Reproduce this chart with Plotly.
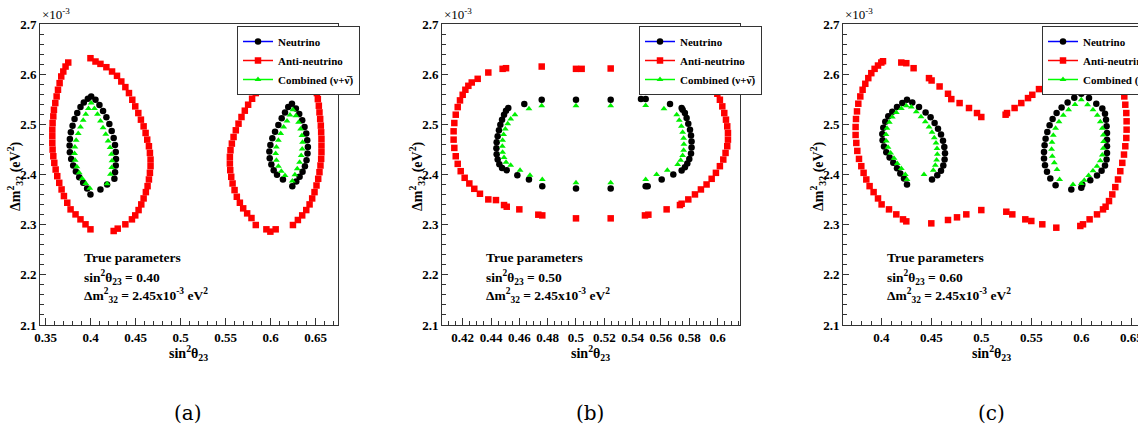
import plotly.graph_objects as go

W, H = 1138, 432

# ---------------- Panel (a): true sin^2(theta23) = 0.40 ----------------
a_nu_x = [0.4006, 0.3969, 0.3924, 0.3887, 0.3851, 0.3821, 0.3799, 0.3780, 0.3769, 0.3766, 0.3769, 0.3784,
          0.3806, 0.3836, 0.3873, 0.3917, 0.3961, 0.3998, 0.4054, 0.4098, 0.4138, 0.4175, 0.4208, 0.4234,
          0.4256, 0.4271, 0.4279, 0.4282, 0.4279, 0.4271, 0.4264, 0.4183, 0.4109,
          0.6238, 0.6282, 0.6319, 0.6352, 0.6378, 0.6397, 0.6408, 0.6415, 0.6411, 0.6400, 0.6382, 0.6356,
          0.6323, 0.6286, 0.6242, 0.6197, 0.6161, 0.6124, 0.6087, 0.6050, 0.6020, 0.5998, 0.5987, 0.5991,
          0.6009, 0.6035, 0.6072, 0.6138]
a_nu_y = [2.5556, 2.5510, 2.5437, 2.5344, 2.5225, 2.5106, 2.4974, 2.4841, 2.4709, 2.4576, 2.4444, 2.4311,
          2.4179, 2.4060, 2.3947, 2.3834, 2.3722, 2.3603, 2.5490, 2.5384, 2.5265, 2.5139, 2.5007, 2.4868,
          2.4728, 2.4589, 2.4450, 2.4311, 2.4179, 2.4046, 2.3914, 2.3801, 2.3702,
          2.5411, 2.5318, 2.5205, 2.5079, 2.4947, 2.4815, 2.4682, 2.4550, 2.4417, 2.4285, 2.4166, 2.4053,
          2.3954, 2.3861, 2.3768, 2.5344, 2.5238, 2.5119, 2.4987, 2.4854, 2.4722, 2.4589, 2.4457, 2.4325,
          2.4199, 2.4086, 2.3993, 2.3901]

a_anu_x = [0.3751, 0.3721, 0.3696, 0.3673, 0.3655, 0.3637, 0.3622, 0.3607, 0.3592, 0.3585, 0.3577, 0.3574,
           0.3574, 0.3574, 0.3577, 0.3585, 0.3596, 0.3611, 0.3629, 0.3651, 0.3677, 0.3703, 0.3740, 0.3777,
           0.3832, 0.3887, 0.3943, 0.3998,
           0.4256, 0.4301, 0.4386, 0.4459, 0.4496, 0.4533, 0.4563, 0.4589, 0.4614, 0.4633, 0.4648, 0.4659,
           0.4666, 0.4666, 0.4659, 0.4648, 0.4629, 0.4611, 0.4589, 0.4559, 0.4530, 0.4496, 0.4463, 0.4426,
           0.4386, 0.4341, 0.4293, 0.4238, 0.4175, 0.4109, 0.4054, 0.3998,
           0.5880, 0.5836, 0.5795, 0.5751, 0.5714, 0.5677, 0.5644, 0.5614, 0.5589, 0.5570, 0.5555, 0.5548,
           0.5548, 0.5552, 0.5563, 0.5578, 0.5600, 0.5625, 0.5659, 0.5696, 0.5740, 0.5788, 0.5836, 0.5954,
           0.5998, 0.6057,
           0.6249, 0.6304, 0.6352, 0.6397, 0.6434, 0.6463, 0.6489, 0.6511, 0.6530, 0.6544, 0.6555, 0.6563,
           0.6566, 0.6566, 0.6566, 0.6563, 0.6559, 0.6552, 0.6544, 0.6537, 0.6526, 0.6515, 0.6500]
a_anu_y = [2.6232, 2.6152, 2.6053, 2.5954, 2.5821, 2.5689, 2.5556, 2.5424, 2.5291, 2.5159, 2.5026, 2.4894,
           2.4762, 2.4629, 2.4497, 2.4364, 2.4232, 2.4099, 2.3967, 2.3834, 2.3702, 2.3570, 2.3437, 2.3305,
           2.3205, 2.3106, 2.3007, 2.2907,
           2.2874, 2.2921, 2.3007, 2.3106, 2.3185, 2.3291, 2.3404, 2.3523, 2.3649, 2.3768, 2.3901, 2.4033,
           2.4166, 2.4298, 2.4430, 2.4563, 2.4695, 2.4828, 2.4960, 2.5093, 2.5225, 2.5358, 2.5490, 2.5623,
           2.5742, 2.5854, 2.5967, 2.6053, 2.6139, 2.6205, 2.6252, 2.6318,
           2.5722, 2.5623, 2.5510, 2.5391, 2.5272, 2.5146, 2.5013, 2.4881, 2.4748, 2.4616, 2.4483, 2.4351,
           2.4219, 2.4086, 2.3954, 2.3821, 2.3689, 2.3556, 2.3437, 2.3325, 2.3225, 2.3132, 2.2993, 2.2907,
           2.2861, 2.2907,
           2.2993, 2.3093, 2.3185, 2.3291, 2.3404, 2.3523, 2.3649, 2.3781, 2.3914, 2.4046, 2.4179, 2.4311,
           2.4444, 2.4576, 2.4709, 2.4841, 2.4974, 2.5106, 2.5238, 2.5371, 2.5503, 2.5623, 2.5742]

a_comb_x = [0.4006, 0.3976, 0.3946, 0.3917, 0.3887, 0.3862, 0.3839, 0.3825, 0.3821, 0.3828, 0.3847, 0.3873,
            0.3906, 0.3946, 0.3991, 0.4042, 0.4076, 0.4109, 0.4138, 0.4168, 0.4194, 0.4216, 0.4231, 0.4238,
            0.4234, 0.4220, 0.4183,
            0.6249, 0.6216, 0.6183, 0.6146, 0.6113, 0.6087, 0.6065, 0.6057, 0.6065, 0.6087, 0.6120, 0.6161,
            0.6282, 0.6312, 0.6334, 0.6349, 0.6356, 0.6352, 0.6341, 0.6323, 0.6297, 0.6271, 0.6242]
a_comb_y = [2.5424, 2.5318, 2.5199, 2.5079, 2.4947, 2.4815, 2.4682, 2.4550, 2.4417, 2.4285, 2.4152, 2.4033,
            2.3921, 2.3821, 2.3728, 2.5318, 2.5199, 2.5066, 2.4934, 2.4801, 2.4669, 2.4536, 2.4404, 2.4272,
            2.4139, 2.4007, 2.3815,
            2.5291, 2.5185, 2.5066, 2.4947, 2.4815, 2.4682, 2.4550, 2.4417, 2.4285, 2.4166, 2.4066, 2.3980,
            2.5172, 2.5040, 2.4907, 2.4775, 2.4642, 2.4510, 2.4377, 2.4245, 2.4113, 2.3993, 2.3868]

# ---------------- Panel (b): true sin^2(theta23) = 0.50 ----------------
b_nu_x = [0.4635, 0.4758, 0.5000, 0.5245, 0.5459, 0.5492, 0.5664, 0.5746,
          0.4522, 0.4506, 0.4492, 0.4478, 0.4466, 0.4456, 0.4447, 0.4440, 0.4438, 0.4440, 0.4447, 0.4459,
          0.4478, 0.4511,
          0.4586, 0.4668, 0.4762, 0.5000, 0.5245, 0.5492, 0.5506, 0.5605, 0.5687, 0.5746,
          0.5753, 0.5769, 0.5781, 0.5793, 0.5805, 0.5812, 0.5816, 0.5816, 0.5812, 0.5800, 0.5786, 0.5769]
b_nu_y = [2.5404, 2.5490, 2.5490, 2.5490, 2.5503, 2.5503, 2.5404, 2.5325,
          2.5325, 2.5272, 2.5192, 2.5093, 2.4993, 2.4881, 2.4762, 2.4642, 2.4523, 2.4404, 2.4298, 2.4205,
          2.4132, 2.4086,
          2.3987, 2.3901, 2.3768, 2.3722, 2.3722, 2.3768, 2.3768, 2.3901, 2.3999, 2.4079,
          2.5291, 2.5225, 2.5126, 2.5013, 2.4894, 2.4775, 2.4656, 2.4536, 2.4417, 2.4311, 2.4219, 2.4146]

b_anu_x = [0.4482, 0.4506, 0.4381, 0.4306, 0.4264, 0.4240, 0.4219, 0.4200, 0.4181, 0.4165, 0.4151, 0.4141,
           0.4136, 0.4136, 0.4141, 0.4151, 0.4165, 0.4186, 0.4214, 0.4247, 0.4282, 0.4322, 0.4381, 0.4435,
           0.4492, 0.4511, 0.4600, 0.4734, 0.4762, 0.5000, 0.5245, 0.5487, 0.5511, 0.5640, 0.5734, 0.5746,
           0.5793, 0.5840, 0.5882, 0.5922, 0.5958, 0.5988, 0.6016, 0.6040, 0.6056, 0.6068, 0.6073, 0.6073,
           0.6068, 0.6059, 0.6047, 0.6033, 0.6016, 0.5998, 0.5976,
           0.4758, 0.5000, 0.5040, 0.5245]
b_anu_y = [2.6106, 2.6119, 2.6033, 2.5907, 2.5834, 2.5768, 2.5689, 2.5589, 2.5477, 2.5344, 2.5192, 2.5026,
           2.4861, 2.4695, 2.4530, 2.4364, 2.4212, 2.4066, 2.3934, 2.3821, 2.3715, 2.3616, 2.3503, 2.3490,
           2.3391, 2.3358, 2.3305, 2.3199, 2.3185, 2.3126, 2.3126, 2.3185, 2.3199, 2.3305, 2.3391, 2.3417,
           2.3503, 2.3603, 2.3702, 2.3801, 2.3914, 2.4033, 2.4166, 2.4298, 2.4430, 2.4563, 2.4695, 2.4828,
           2.4960, 2.5093, 2.5225, 2.5358, 2.5490, 2.5609, 2.5722,
           2.6152, 2.6106, 2.6106, 2.6113]

b_comb_x = [0.4668, 0.4758, 0.5000, 0.5245, 0.5492, 0.5621,
            0.4569, 0.4539, 0.4518, 0.4501, 0.4489, 0.4482, 0.4480, 0.4482, 0.4492, 0.4506, 0.4539,
            0.4605, 0.4675, 0.4762, 0.5000, 0.5245, 0.5492, 0.5569, 0.5645,
            0.5711, 0.5729, 0.5744, 0.5753, 0.5760, 0.5762, 0.5760, 0.5753, 0.5739, 0.5718]
b_comb_y = [2.5311, 2.5371, 2.5371, 2.5371, 2.5377, 2.5311,
            2.5192, 2.5106, 2.5013, 2.4907, 2.4795, 2.4682, 2.4563, 2.4444, 2.4338, 2.4245, 2.4185,
            2.4086, 2.3987, 2.3901, 2.3834, 2.3834, 2.3901, 2.4000, 2.4086,
            2.5192, 2.5079, 2.4960, 2.4841, 2.4722, 2.4603, 2.4483, 2.4377, 2.4285, 2.4199]

# ---------------- Panel (c): true sin^2(theta23) = 0.60 ----------------
c_nu_x = [0.4257, 0.4310, 0.4377, 0.4443, 0.4493, 0.4533, 0.4567, 0.4597, 0.4617, 0.4630, 0.4637, 0.4633,
          0.4620, 0.4597, 0.4560, 0.4507,
          0.4210, 0.4157, 0.4110, 0.4070, 0.4040, 0.4020, 0.4010, 0.4013, 0.4027, 0.4050, 0.4083, 0.4120,
          0.4157, 0.4190, 0.4227, 0.4257,
          0.6000, 0.6077, 0.6150, 0.6210, 0.6237, 0.6247, 0.6253, 0.6257, 0.6257, 0.6257, 0.6257, 0.6253,
          0.6237, 0.6203, 0.6157, 0.6090, 0.6010, 0.6000, 0.5900, 0.5743,
          0.5930, 0.5863, 0.5803, 0.5753, 0.5713, 0.5683, 0.5660, 0.5643, 0.5633, 0.5627, 0.5627, 0.5637,
          0.5657, 0.5690]
c_nu_y = [2.5490, 2.5437, 2.5344, 2.5238, 2.5139, 2.5026, 2.4914, 2.4795, 2.4675, 2.4550, 2.4424, 2.4298,
          2.4179, 2.4073, 2.3987, 2.3901,
          2.5424, 2.5344, 2.5252, 2.5159, 2.5053, 2.4934, 2.4808, 2.4682, 2.4556, 2.4444, 2.4338, 2.4232,
          2.4126, 2.4020, 2.3921, 2.3801,
          2.5609, 2.5523, 2.5411, 2.5318, 2.5212, 2.5093, 2.4960, 2.4828, 2.4695, 2.4563, 2.4430, 2.4298,
          2.4179, 2.4073, 2.3980, 2.3887, 2.3795, 2.3735, 2.3702, 2.3788,
          2.5530, 2.5437, 2.5338, 2.5225, 2.5106, 2.4980, 2.4848, 2.4715, 2.4583, 2.4450, 2.4318, 2.4185,
          2.4053, 2.3921]

c_anu_x = [0.4000, 0.4017, 0.3967, 0.3933, 0.3900, 0.3870, 0.3840, 0.3813, 0.3790, 0.3770, 0.3757, 0.3747,
           0.3743, 0.3743, 0.3750, 0.3760, 0.3777, 0.3800, 0.3823, 0.3850, 0.3883, 0.3923, 0.3967, 0.4003,
           0.4077, 0.4150, 0.4217, 0.4250, 0.4500, 0.4667, 0.4757, 0.4850, 0.5000, 0.5250, 0.5310, 0.5440,
           0.5500, 0.5610, 0.5750, 0.5990, 0.6017, 0.6083, 0.6157, 0.6217, 0.6243, 0.6277, 0.6310, 0.6340,
           0.6367, 0.6390, 0.6410, 0.6427, 0.6440, 0.6450, 0.6453, 0.6453, 0.6450, 0.6440, 0.6430, 0.6417,
           0.4200, 0.4250, 0.4323, 0.4477, 0.4503, 0.4583, 0.4667, 0.4700, 0.4783, 0.4877, 0.4957, 0.5000,
           0.5243, 0.5257, 0.5333, 0.5400, 0.5467, 0.5510, 0.5577]
c_anu_y = [2.6232, 2.6258, 2.6172, 2.6106, 2.6020, 2.5921, 2.5808, 2.5689, 2.5556, 2.5411, 2.5258, 2.5106,
           2.4947, 2.4788, 2.4629, 2.4470, 2.4311, 2.4166, 2.4033, 2.3901, 2.3768, 2.3649, 2.3523, 2.3404,
           2.3305, 2.3205, 2.3106, 2.3066, 2.3026, 2.3093, 2.3146, 2.3205, 2.3291, 2.3258, 2.3205, 2.3106,
           2.3073, 2.3007, 2.2940, 2.2974, 2.3007, 2.3106, 2.3205, 2.3305, 2.3358, 2.3470, 2.3603, 2.3748,
           2.3901, 2.4066, 2.4232, 2.4397, 2.4563, 2.4728, 2.4894, 2.5060, 2.5225, 2.5391, 2.5556, 2.5702,
           2.6232, 2.6219, 2.6119, 2.5921, 2.5874, 2.5755, 2.5609, 2.5503, 2.5424, 2.5325, 2.5225, 2.5146,
           2.5192, 2.5225, 2.5325, 2.5424, 2.5523, 2.5589, 2.5702]

c_comb_x = [0.4250, 0.4300, 0.4350, 0.4397, 0.4440, 0.4477, 0.4507, 0.4530, 0.4547, 0.4557, 0.4560, 0.4553,
            0.4540, 0.4520, 0.4427,
            0.4200, 0.4150, 0.4110, 0.4080, 0.4057, 0.4047, 0.4050, 0.4067, 0.4093, 0.4127, 0.4160, 0.4200,
            0.4240, 0.4257,
            0.6000, 0.6063, 0.6117, 0.6160, 0.6190, 0.6210, 0.6220, 0.6223, 0.6220, 0.6210, 0.6190, 0.6157,
            0.6117, 0.6073, 0.6030, 0.6000,
            0.5937, 0.5873, 0.5820, 0.5777, 0.5743, 0.5720, 0.5707, 0.5703, 0.5710, 0.5730, 0.5757, 0.5783,
            0.5917]
c_comb_y = [2.5371, 2.5344, 2.5252, 2.5152, 2.5053, 2.4947, 2.4841, 2.4735, 2.4629, 2.4517, 2.4404, 2.4291,
            2.4185, 2.4086, 2.4000,
            2.5318, 2.5238, 2.5146, 2.5040, 2.4921, 2.4795, 2.4669, 2.4543, 2.4430, 2.4325, 2.4219, 2.4119,
            2.4000, 2.3901,
            2.5490, 2.5391, 2.5291, 2.5179, 2.5053, 2.4921, 2.4788, 2.4656, 2.4523, 2.4391, 2.4272, 2.4166,
            2.4073, 2.3980, 2.3887, 2.3821,
            2.5397, 2.5291, 2.5179, 2.5053, 2.4921, 2.4781, 2.4642, 2.4503, 2.4364, 2.4232, 2.4099, 2.3901,
            2.3801]

# ---------------- labels ----------------
series_names = ["Neutrino", "Anti-neutrino", "Combined (\u03bd+\u03bd\u0305)"]
true_sin2 = ["0.40", "0.50", "0.60"]
captions = ["(a)", "(b)", "(c)"]
x_ranges = [[0.3437, 0.675], [0.4054, 0.6158], [0.3617, 0.6567]]
x_dticks = [0.05, 0.02, 0.05]
x_minor = [0.01, 0.005, 0.01]

panels = [
    [(a_nu_x, a_nu_y), (a_anu_x, a_anu_y), (a_comb_x, a_comb_y)],
    [(b_nu_x, b_nu_y), (b_anu_x, b_anu_y), (b_comb_x, b_comb_y)],
    [(c_nu_x, c_nu_y), (c_anu_x, c_anu_y), (c_comb_x, c_comb_y)],
]

line_colors = ["#0000ff", "#ff0000", "#00ff00"]
marker_colors = ["#000000", "#ff0000", "#00f000"]
symbols = ["circle", "square", "triangle-up"]
msizes = [6.5, 6.5, 6]

# frame pixel positions (left, right) for each panel
frames = [(40, 338), (442, 740), (843, 1138)]
legend_left = [237, 639, 1042]
top_px, bot_px = 24, 325

SERIF = "Liberation Serif"


def gapped(vals):
    out = []
    for v in vals:
        out.extend([v, None])
    return out


fig = go.Figure()
legend_ids = ["legend", "legend2", "legend3"]

for p, series in enumerate(panels):
    xa = "x" if p == 0 else f"x{p+1}"
    ya = "y" if p == 0 else f"y{p+1}"
    for s, (xs, ys) in enumerate(series):
        fig.add_trace(go.Scatter(
            x=gapped(xs), y=gapped(ys), mode="lines+markers",
            name=series_names[s], xaxis=xa, yaxis=ya,
            legend=legend_ids[p], connectgaps=False,
            line=dict(color=line_colors[s], width=1.5),
            marker=dict(symbol=symbols[s], size=msizes[s], color=marker_colors[s],
                        line=dict(width=0)),
            hoverinfo="skip",
        ))

layout = dict(
    width=W, height=H, margin=dict(l=0, r=0, t=0, b=0, autoexpand=False),
    paper_bgcolor="white", plot_bgcolor="white", showlegend=True,
)

ydom = [1 - bot_px / H, 1 - top_px / H]
for p in range(3):
    l, r = frames[p]
    xkey = "xaxis" if p == 0 else f"xaxis{p+1}"
    ykey = "yaxis" if p == 0 else f"yaxis{p+1}"
    xa = "x" if p == 0 else f"x{p+1}"
    ya = "y" if p == 0 else f"y{p+1}"
    layout[xkey] = dict(
        domain=[l / W, r / W], range=x_ranges[p], anchor=ya,
        showgrid=False, zeroline=False, showline=True, mirror=True,
        linecolor="#333", linewidth=1,
        ticks="inside", ticklen=7, tickcolor="#333", dtick=x_dticks[p], tick0=0,
        minor=dict(ticks="inside", ticklen=4, dtick=x_minor[p], tick0=0, tickcolor="#333", showgrid=False),
        tickfont=dict(family=SERIF, size=13, color="black", weight="bold"),
        ticklabeloverflow="allow", automargin=False,
    )
    layout[ykey] = dict(
        domain=ydom, range=[2.1, 2.7], anchor=xa,
        showgrid=False, zeroline=False, showline=True, mirror=(p < 2),
        linecolor="#333", linewidth=1,
        ticks="inside", ticklen=6, tickcolor="#333", dtick=0.1, tick0=0,
        minor=dict(ticks="inside", ticklen=4, dtick=0.02, tick0=0, tickcolor="#333", showgrid=False),
        tickfont=dict(family=SERIF, size=13, color="black", weight="bold"),
        automargin=False,
    )
    layout[legend_ids[p]] = dict(
        x=legend_left[p] / W, y=1 - 26 / H, xanchor="left", yanchor="top",
        xref="paper", yref="paper",
        bgcolor="white", bordercolor="#333", borderwidth=1,
        font=dict(family=SERIF, size=11, color="black", weight="bold"),
        itemwidth=30, tracegroupgap=0,
    )

fig.update_layout(**layout)

annotations = []
for p in range(3):
    l, r = frames[p]
    cx = l + 149
    annotations.append(dict(x=l / W, y=1 - 14 / H, xref="paper", yref="paper", xanchor="left",
                            yanchor="middle", showarrow=False,
                            text="\u00d710<sup>-3</sup>",
                            font=dict(family=SERIF, size=13, color="black")))
    annotations.append(dict(x=(l - 25) / W, y=1 - 176 / H, xref="paper", yref="paper", xanchor="center",
                            yanchor="middle", showarrow=False, textangle=-90,
                            text="<b>\u0394m<sup>2</sup><sub>32</sub> (eV<sup>2</sup>)</b>",
                            font=dict(family=SERIF, size=14, color="black")))
    annotations.append(dict(x=(cx - 1) / W, y=1 - 353 / H, xref="paper", yref="paper", xanchor="center",
                            yanchor="middle", showarrow=False,
                            text="<b>sin<sup>2</sup>\u03b8<sub>23</sub></b>",
                            font=dict(family=SERIF, size=14, color="black")))
    tx = l + 42
    lines = ["<b>True parameters</b>",
             f"<b>sin<sup>2</sup>\u03b8<sub>23</sub> = {true_sin2[p]}</b>",
             "<b>\u0394m<sup>2</sup><sub>32</sub> = 2.45x10<sup>-3</sup> eV<sup>2</sup></b>"]
    for txt, yy in zip(lines, [257, 277, 295]):
        annotations.append(dict(x=tx / W, y=1 - yy / H, xref="paper", yref="paper", xanchor="left",
                                yanchor="middle", showarrow=False, text=txt,
                                font=dict(family=SERIF, size=13.5, color="black")))
    annotations.append(dict(x=(cx - 1) / W, y=1 - 413 / H, xref="paper", yref="paper", xanchor="center",
                            yanchor="middle", showarrow=False, text=captions[p],
                            font=dict(family="DejaVu Serif", size=20, color="black")))

fig.update_layout(annotations=annotations)
fig.write_html(
    "out.html",
    config={"displayModeBar": False, "staticPlot": True},
    post_script="document.body.style.margin='0';document.body.style.padding='0';"
                "document.body.style.overflow='hidden';",
)
